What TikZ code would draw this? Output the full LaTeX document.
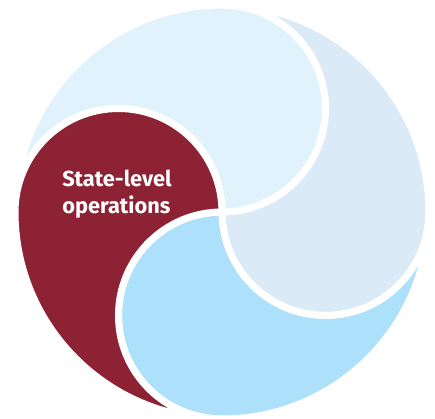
\documentclass[tikz,border=0pt]{standalone}
\usepackage{fontspec}
\newfontfamily\labelfont{Fira Sans}
\definecolor{topblue}{RGB}{224,242,252}
\definecolor{sideblue}{RGB}{218,234,246}
\definecolor{lowblue}{RGB}{173,224,250}
\definecolor{statered}{RGB}{140,34,52}

\begin{document}
\begin{tikzpicture}[x=0.025cm, y=0.025cm,
      piece/.style={draw=white, line width=5pt, line join=round}]
  \useasboundingbox (-222,-207) rectangle (213,212);
  \def\R{207}
  \def\r{103.5}
  \coordinate (O) at (0,0);
  % top piece
  \filldraw[piece, fill=topblue] (O) arc[start angle=-90, end angle=90, radius=\r]
    arc[start angle=90, end angle=180, radius=\R]
    arc[start angle=180, end angle=0, radius=\r] -- cycle;
  % right piece
  \filldraw[piece, fill=sideblue] (O) arc[start angle=-90, end angle=90, radius=\r]
    arc[start angle=90, end angle=0, radius=\R]
    arc[start angle=0, end angle=-180, radius=\r] -- cycle;
  % bottom piece
  \filldraw[piece, fill=lowblue] (O) arc[start angle=180, end angle=360, radius=\r]
    arc[start angle=0, end angle=-90, radius=\R]
    arc[start angle=-90, end angle=-270, radius=\r] -- cycle;
  % state-level piece
  \filldraw[piece, fill=statered] (O) arc[start angle=90, end angle=270, radius=\r]
    arc[start angle=-90, end angle=-180, radius=\R]
    arc[start angle=180, end angle=0, radius=\r] -- cycle;
  \node[text=white, font=\labelfont\bfseries\fontsize{15.5}{19}\selectfont,
    align=left, inner sep=0pt, anchor=west] (statelabel) at (-160,18)
    {State-level\\operations};
\end{tikzpicture}
\end{document}
